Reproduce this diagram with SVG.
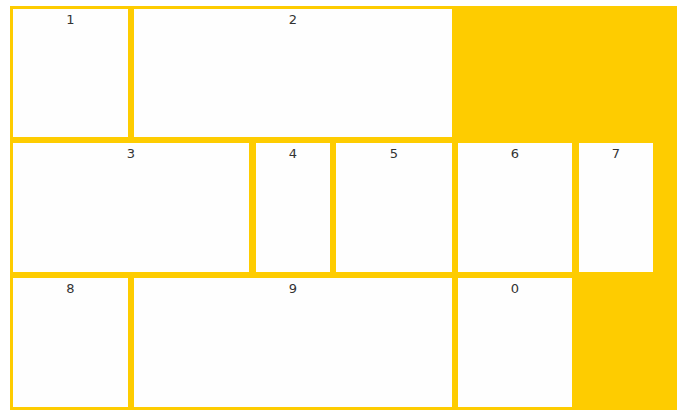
<svg xmlns="http://www.w3.org/2000/svg" width="687" height="417" viewBox="0 0 687 417">
<style>
.box{fill:#fefefe}
.lbl{font-family:"DejaVu Sans","Liberation Sans",sans-serif;font-size:13px;fill:#333;text-anchor:middle}
</style>
<rect x="0" y="0" width="687" height="417" fill="#ffffff"/>
<rect id="container" x="10" y="6" width="667" height="404" fill="#fecc00"/>
<g id="n1"><rect class="box" x="13" y="9" width="115" height="128"/><text class="lbl" x="70.5" y="24">1</text></g>
<g id="n2"><rect class="box" x="134" y="9" width="318" height="128"/><text class="lbl" x="293" y="24">2</text></g>
<g id="n3"><rect class="box" x="13" y="143" width="236" height="129"/><text class="lbl" x="131" y="158">3</text></g>
<g id="n4"><rect class="box" x="256" y="143" width="74" height="129"/><text class="lbl" x="293" y="158">4</text></g>
<g id="n5"><rect class="box" x="336" y="143" width="116" height="129"/><text class="lbl" x="394" y="158">5</text></g>
<g id="n6"><rect class="box" x="458" y="143" width="114" height="129"/><text class="lbl" x="515" y="158">6</text></g>
<g id="n7"><rect class="box" x="579" y="143" width="74" height="129"/><text class="lbl" x="616" y="158">7</text></g>
<g id="n8"><rect class="box" x="13" y="278" width="115" height="129"/><text class="lbl" x="70.5" y="293">8</text></g>
<g id="n9"><rect class="box" x="134" y="278" width="318" height="129"/><text class="lbl" x="293" y="293">9</text></g>
<g id="n0"><rect class="box" x="458" y="278" width="114" height="129"/><text class="lbl" x="515" y="293">0</text></g>
</svg>
